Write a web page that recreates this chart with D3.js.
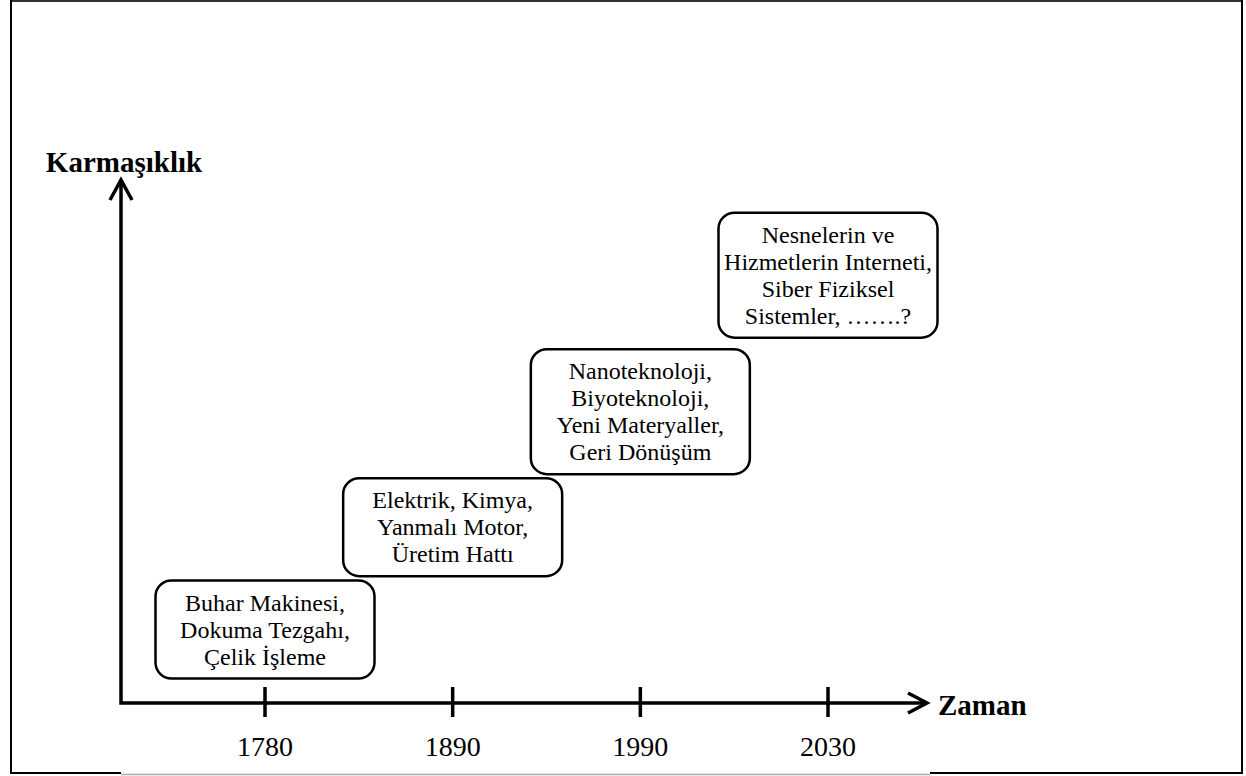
<!DOCTYPE html>
<html>
<head>
<meta charset="utf-8">
<script src="https://cdn.jsdelivr.net/npm/d3@7"></script>
<style>
  html, body { margin: 0; padding: 0; background: #fff; }
  svg { display: block; }
</style>
</head>
<body>
<svg id="chart" width="1246" height="776"></svg>
<script>
// ---- data ----
const years = ["1780", "1890", "1990", "2030"];
const complexity = [1.4, 3.35, 5.55, 8.15];
const eraLines = [
  ["Buhar Makinesi,", "Dokuma Tezgahı,", "Çelik İşleme"],
  ["Elektrik, Kimya,", "Yanmalı Motor,", "Üretim Hattı"],
  ["Nanoteknoloji,", "Biyoteknoloji,", "Yeni Materyaller,", "Geri Dönüşüm"],
  ["Nesnelerin ve", "Hizmetlerin Interneti,", "Siber Fiziksel", "Sistemler, …….?"]
];
const xTitle = "Zaman";
const yTitle = "Karmaşıklık";

// ---- layout ----
const FONT = "'Liberation Serif', 'Times New Roman', Times, serif";
const origin = { x: 121, y: 703 };
const xEnd = 927, yEnd = 180;
const svg = d3.select("#chart");

const x = d3.scalePoint().domain(years).range([265, 828]);
const y = d3.scaleLinear().domain([0, 10]).range([origin.y, 178]);

// frame
const frame = svg.append("g");
frame.append("line").attr("x1", 11).attr("y1", 1).attr("x2", 1242).attr("y2", 1)
  .attr("stroke", "#333").attr("stroke-width", 2);
frame.append("line").attr("x1", 11).attr("y1", 0).attr("x2", 11).attr("y2", 774)
  .attr("stroke", "#000").attr("stroke-width", 2);
frame.append("line").attr("x1", 1242).attr("y1", 0).attr("x2", 1242).attr("y2", 774)
  .attr("stroke", "#000").attr("stroke-width", 2);
frame.append("line").attr("x1", 10).attr("y1", 773).attr("x2", 121).attr("y2", 773)
  .attr("stroke", "#000").attr("stroke-width", 2);
frame.append("line").attr("x1", 930).attr("y1", 773).attr("x2", 1243).attr("y2", 773)
  .attr("stroke", "#000").attr("stroke-width", 2);
frame.append("line").attr("x1", 121).attr("y1", 774.5).attr("x2", 930).attr("y2", 774.5)
  .attr("stroke", "#aaa").attr("stroke-width", 1.5);

// axes
const ax = svg.append("g").attr("stroke", "#000").attr("stroke-width", 3.5).attr("fill", "none");
ax.append("path")
  .attr("d", `M${origin.x},${yEnd} L${origin.x},${origin.y} L${xEnd},${origin.y}`)
  .attr("stroke-linejoin", "miter");
ax.append("path").attr("d", `M${origin.x - 11},${yEnd + 20} L${origin.x},${yEnd} L${origin.x + 11},${yEnd + 20}`)
  .attr("stroke-linejoin", "miter");
ax.append("path").attr("d", `M${xEnd - 19},${origin.y - 10} L${xEnd},${origin.y} L${xEnd - 19},${origin.y + 10}`)
  .attr("stroke-linejoin", "miter");

// ticks
ax.selectAll("line.tick").data(years).join("line")
  .attr("class", "tick")
  .attr("x1", d => x(d)).attr("x2", d => x(d))
  .attr("y1", origin.y - 16).attr("y2", origin.y + 14);

svg.selectAll("text.tl").data(years).join("text")
  .attr("class", "tl")
  .attr("x", d => x(d)).attr("y", 756)
  .attr("text-anchor", "middle")
  .attr("font-family", FONT).attr("font-size", 28)
  .text(d => d);

// axis titles
svg.append("text").attr("x", 124).attr("y", 172).attr("text-anchor", "middle")
  .attr("font-family", FONT).attr("font-size", 29).attr("font-weight", "bold").text(yTitle);
svg.append("text").attr("x", 938).attr("y", 715)
  .attr("font-family", FONT).attr("font-size", 29).attr("font-weight", "bold").text(xTitle);

// boxes
const lineH = 27, boxW = 219;
const eras = years.map((yr, i) => ({ yr, c: complexity[i], lines: eraLines[i] }));
const g = svg.selectAll("g.era").data(eras).join("g").attr("class", "era")
  .attr("transform", d => `translate(${x(d.yr)},${y(d.c)})`);
g.append("rect")
  .attr("x", -boxW / 2)
  .attr("y", d => -(d.lines.length * lineH + 17) / 2)
  .attr("width", boxW)
  .attr("height", d => d.lines.length * lineH + 17)
  .attr("rx", 16).attr("ry", 16)
  .attr("fill", "#fff").attr("stroke", "#000").attr("stroke-width", 2.5);
g.selectAll("text").data(d => d.lines.map((t, i) => ({ t, i, n: d.lines.length }))).join("text")
  .attr("x", 0)
  .attr("y", d => (d.i - (d.n - 1) / 2) * lineH + 8)
  .attr("text-anchor", "middle")
  .attr("font-family", FONT).attr("font-size", 24)
  .text(d => d.t);
</script>
</body>
</html>
